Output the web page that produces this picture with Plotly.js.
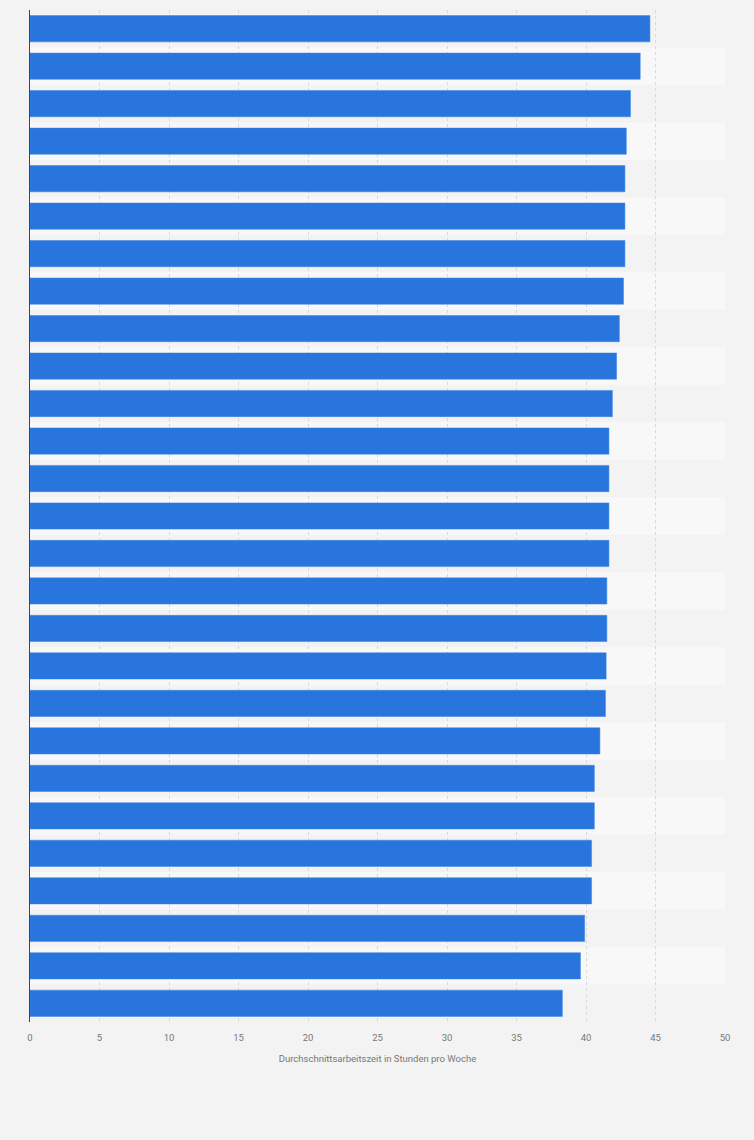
<!DOCTYPE html>
<html>
<head>
<meta charset="utf-8">
<script src="https://cdn.plot.ly/plotly-3.0.1.min.js"></script>
<style>
  html, body { margin: 0; padding: 0; background: #f3f3f3; }
  #chart { width: 754px; height: 1140px; }
</style>
</head>
<body>
<div id="chart"></div>
<script>
// rows from top to bottom; names are not shown in the picture
const ROWS = ["1", "2", "3", "4", "5", "6", "7", "8", "9", "10", "11", "12", "13", "14",
    "15", "16", "17", "18", "19", "20", "21", "22", "23", "24", "25", "26", "27"];
const HOURS = [44.6, 43.9, 43.2, 42.9, 42.8, 42.8, 42.8, 42.7, 42.4, 42.2, 41.9, 41.65, 41.65, 41.65,
    41.65, 41.5, 41.5, 41.45, 41.4, 41.0, 40.6, 40.6, 40.4, 40.4, 39.9, 39.6, 38.3];
const XTICKS = [0, 5, 10, 15, 20, 25, 30, 35, 40, 45, 50];
const XTITLE = "Durchschnittsarbeitszeit in Stunden pro Woche";

var stripes = [];
for (let i = 0; i < ROWS.length; i++) {
    if (i % 2 == 1) {
        stripes.push({
            type: 'rect', layer: 'below', xref: 'x', yref: 'y',
            x0: 0, x1: 50, y0: i - 0.5, y1: i + 0.5,
            fillcolor: '#f8f8f8', line: { width: 0 }
        });
    }
}

var trace1 = {
    type: 'bar',
    orientation: 'h',
    x: HOURS,
    y: ROWS,
    marker: { color: '#2876dd', line: { color: '#3b82e0', width: 0.5 } },
    hoverinfo: 'x'
};

var layout = {
    width: 754,
    height: 1140,
    paper_bgcolor: '#f3f3f3',
    plot_bgcolor: 'rgba(0,0,0,0)',
    margin: { l: 30, r: 29, t: 10, b: 118 },
    bargap: 0.3,
    showlegend: false,
    font: { family: 'Roboto, "Liberation Sans", Arial, sans-serif', color: '#666' },
    shapes: stripes,
    xaxis: {
        range: [0, 50],
        tickvals: XTICKS,
        ticktext: XTICKS.map(String),
        showgrid: true,
        gridcolor: '#d9d9d9',
        griddash: 'dot',
        gridwidth: 1,
        zeroline: false,
        ticks: 'outside',
        ticklen: 7,
        tickcolor: 'rgba(0,0,0,0)',
        tickfont: { size: 9.5, color: '#777' },
        title: { text: XTITLE, font: { size: 9.5, color: '#777' }, standoff: 12 },
        fixedrange: true
    },
    yaxis: {
        type: 'category',
        autorange: 'reversed',
        showticklabels: false,
        showgrid: false,
        showline: true,
        linecolor: '#444',
        linewidth: 1,
        ticks: '',
        fixedrange: true
    }
};

Plotly.newPlot('chart', [trace1], layout, { displayModeBar: false, staticPlot: true });
</script>
</body>
</html>
